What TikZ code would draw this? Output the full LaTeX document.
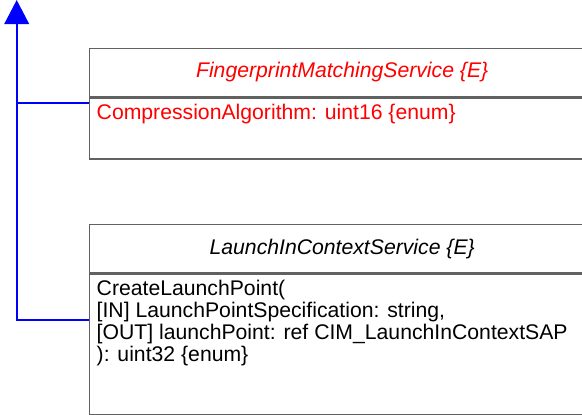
\documentclass[tikz,border=0pt]{standalone}
\usepackage{fontspec}
\setmainfont{Liberation Sans}
\usetikzlibrary{arrows.meta,positioning}
\begin{document}
\begin{tikzpicture}[x=1pt,y=-1pt,
	klasse/.style={draw=black!62, line width=1.4pt, rectangle, inner sep=0pt, minimum width=506pt, anchor=north west},
	titel/.style={font=\fontsize{21.2}{22.5}\selectfont\itshape},
	eintrag/.style={font=\fontsize{21.2}{22.2}\selectfont, align=left, inner sep=0pt, anchor=north west},
	verb/.style={draw=blue, line width=2pt},
	]
	\useasboundingbox (0,0) rectangle (582,415);
	\clip (0,0) rectangle (582,415);

	%% -- FingerprintMatchingService ------------------------------
	\node[klasse, minimum height=48.5pt] (fmsK) at (88.5,47.5) {};
	\node[klasse, minimum height=61pt] (fmsR) at (fmsK.south west) {};
	\node[titel, red] (fmsT) at (fmsK.center) {FingerprintMatchingService \{E\}};
	\node[eintrag, red] (fmsA) at (96.5,103.5) {CompressionAlgorithm: uint16 \{enum\}};

	%% -- LaunchInContextService ----------------------------------
	\node[klasse, minimum height=48pt] (licK) at (88.5,224) {};
	\node[klasse, minimum height=141pt] (licR) at (licK.south west) {};
	\node[titel] (licT) at (licK.center) {LaunchInContextService \{E\}};
	\node[eintrag] (licA) at (96.5,279.5) {CreateLaunchPoint(\\
		{[IN]} LaunchPointSpecification: string,\\
		{[OUT]} launchPoint: ref CIM\_LaunchInContextSAP\\
		): uint32 \{enum\}};

	%% -- Vererbung -----------------------------------------------
	\coordinate (spitze) at (16.7,0);
	\coordinate (fmsE) at (fmsR.west |- 0,103);
	\coordinate (licE) at (licR.west |- 0,320);
	\draw[verb] (fmsE) -- (spitze |- fmsE);
	\draw[verb, -{Triangle[length=24pt,width=24.5pt]}] (licE) -| (spitze);
\end{tikzpicture}
\end{document}
